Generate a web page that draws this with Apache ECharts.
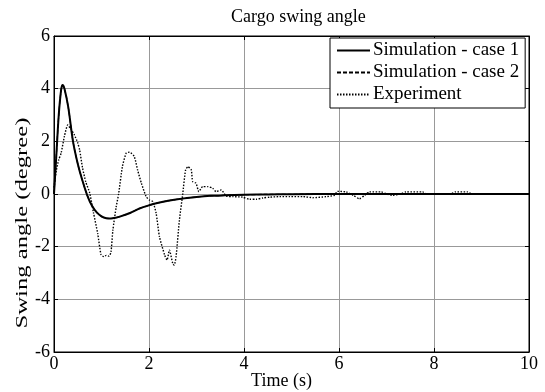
<!DOCTYPE html>
<html>
<head>
<meta charset="utf-8">
<script src="https://cdn.jsdelivr.net/npm/echarts@6/dist/echarts.min.js"></script>
<style>
  html, body { margin: 0; padding: 0; background: #fff; }
  #chart { width: 545px; height: 392px; }
</style>
</head>
<body>
<div id="chart"></div>
<script>
// axis ticks
var xTicks = [0, 2, 4, 6, 8, 10]
var yTicks = [-6, -4, -2, 0, 2, 4, 6]

// simulation - case 1 (solid)
var case1T = [0, 0.05, 0.1, 0.15, 0.18, 0.22, 0.3, 0.4, 0.5, 0.6, 0.7, 0.8, 0.9, 1.0, 1.1, 1.2, 1.3, 1.4, 1.6, 1.8, 2.0, 2.2, 2.4, 2.6, 2.8, 3.0, 3.3, 3.6, 4.0, 4.5, 5.0, 6.0, 7.0, 8.0, 9.0, 10.0]
var case1V = [0, 1.5, 3.0, 3.95, 4.14, 4.0, 3.3, 2.0, 1.15, 0.5, -0.05, -0.45, -0.7, -0.85, -0.92, -0.93, -0.9, -0.85, -0.72, -0.55, -0.43, -0.33, -0.26, -0.2, -0.15, -0.11, -0.07, -0.05, -0.03, -0.015, -0.01, 0, 0, 0, 0, 0]

// simulation - case 2 (dashed, nearly on top of case 1)
var case2T = [0, 0.05, 0.1, 0.15, 0.18, 0.22, 0.3, 0.4, 0.5, 0.6, 0.7, 0.8, 0.9, 1.0, 1.1, 1.2, 1.3, 1.4, 1.6, 1.8, 2.0, 2.2, 2.4, 2.6, 2.8, 3.0, 3.3, 3.6, 4.0, 4.5, 5.0, 6.0, 7.0, 8.0, 9.0, 10.0]
var case2V = [0, 1.5, 3.0, 3.95, 4.13, 4.0, 3.3, 2.0, 1.15, 0.5, -0.05, -0.45, -0.7, -0.85, -0.92, -0.93, -0.9, -0.85, -0.72, -0.55, -0.43, -0.33, -0.26, -0.2, -0.15, -0.11, -0.07, -0.05, -0.03, -0.015, -0.01, 0, 0, 0, 0, 0]

// experiment (dotted)
var expT = [0, 0.05, 0.1, 0.15, 0.22, 0.29, 0.36, 0.43, 0.5, 0.54, 0.6, 0.67, 0.75, 0.83, 0.92, 0.99, 1.05, 1.1, 1.16, 1.2, 1.24, 1.31, 1.36, 1.44, 1.52, 1.59, 1.69, 1.76, 1.84, 1.94, 2.01, 2.08, 2.15, 2.22, 2.33, 2.38, 2.43, 2.5, 2.53, 2.57, 2.64, 2.71, 2.77, 2.82, 2.89, 2.92, 2.99, 3.05, 3.13, 3.24, 3.34, 3.41, 3.52, 3.63, 3.77, 3.97, 4.12, 4.26, 4.4, 4.54, 4.75, 4.96, 5.24, 5.45, 5.73, 5.9, 5.97, 6.15, 6.3, 6.43, 6.54, 6.64, 6.89, 7.0, 7.13, 7.3, 7.41, 7.76, 7.85, 8.35, 8.45, 8.7, 8.8, 10.0]
var expV = [0.25, 0.9, 1.3, 1.55, 2.2, 2.62, 2.45, 2.24, 1.94, 1.67, 1.0, 0.45, 0.05, -0.7, -1.5, -2.3, -2.38, -2.33, -2.36, -2.2, -1.37, -0.48, 0, 1.04, 1.55, 1.59, 1.42, 0.91, 0.41, -0.1, -0.23, -0.29, -0.73, -1.62, -2.32, -2.51, -2.13, -2.64, -2.7, -2.38, -0.99, 0, 0.91, 1.04, 0.91, 0.47, 0.41, 0.09, 0.28, 0.28, 0.22, 0.09, 0.15, -0.08, -0.1, -0.12, -0.2, -0.2, -0.15, -0.12, -0.1, -0.1, -0.1, -0.14, -0.1, -0.05, 0.1, 0.08, -0.05, -0.18, -0.05, 0.08, 0.08, 0, -0.05, 0, 0.08, 0.08, 0, 0, 0.08, 0.08, 0, 0]

var names = ['Simulation - case 1', 'Simulation - case 2', 'Experiment']

function zip(t, v) {
  var out = []
  for (var i = 0; i < t.length; i++) {
    out.push([t[i], v[i]])
  }
  return out
}

var font = 'Liberation Serif, Times New Roman, serif'
var chart = echarts.init(document.getElementById('chart'))

var xBase = {
  type: 'value',
  min: xTicks[0],
  max: xTicks[xTicks.length - 1],
  interval: 2,
  axisLine: { show: true, onZero: false, lineStyle: { color: '#000', width: 1 } },
  axisTick: { show: true, inside: true, length: 4, lineStyle: { color: '#000' } },
  splitLine: { show: false }
}
var yBase = {
  type: 'value',
  min: yTicks[0],
  max: yTicks[yTicks.length - 1],
  interval: 2,
  axisLine: { show: true, onZero: false, lineStyle: { color: '#000', width: 1 } },
  axisTick: { show: true, inside: true, length: 4, lineStyle: { color: '#000' } },
  splitLine: { show: false }
}

chart.setOption({
  animation: false,
  backgroundColor: '#fff',
  title: {
    text: 'Cargo swing angle',
    left: 226,
    top: 3,
    textStyle: { fontFamily: font, fontSize: 18, fontWeight: 'normal', color: '#000' }
  },
  grid: {
    left: 54,
    right: 16,
    top: 36,
    bottom: 40,
    outerBoundsMode: 'none',
    show: true,
    borderColor: '#000',
    borderWidth: 1
  },
  legend: {
    data: names,
    orient: 'vertical',
    left: 330,
    top: 38,
    itemWidth: 33,
    itemHeight: 14,
    itemGap: 3,
    padding: [3, 6, 4, 6],
    backgroundColor: '#fff',
    borderColor: '#000',
    borderWidth: 1,
    borderRadius: 0,
    itemStyle: { opacity: 0 },
    textStyle: { fontFamily: font, fontSize: 19, color: '#000', padding: [0, 0, 0, -2] }
  },
  xAxis: [
    Object.assign({}, xBase, {
      position: 'bottom',
      name: 'Time (s)',
      nameLocation: 'middle',
      nameGap: 20,
      nameMoveOverlap: false,
      nameTextStyle: { fontFamily: font, fontSize: 18, color: '#000', padding: [0, 20, 0, 0] },
      axisLabel: { fontFamily: font, fontSize: 18, color: '#000', margin: 3 },
      splitLine: { show: true, lineStyle: { color: '#999', width: 1 } }
    }),
    Object.assign({}, xBase, { position: 'top', axisLabel: { show: false } })
  ],
  yAxis: [
    Object.assign({}, yBase, {
      position: 'left',
      axisLabel: { fontFamily: font, fontSize: 18, color: '#000', margin: 4 },
      splitLine: { show: true, lineStyle: { color: '#999', width: 1 } }
    }),
    Object.assign({}, yBase, { position: 'right', axisLabel: { show: false } })
  ],
  graphic: [
    {
      type: 'text',
      x: 23,
      y: 223,
      rotation: Math.PI / 2,
      scaleX: 1.45,
      style: {
        text: 'Swing angle (degree)',
        fontFamily: font,
        fontSize: 17,
        fill: '#000',
        align: 'center',
        verticalAlign: 'middle'
      }
    }
  ],
  series: [
    {
      name: names[0],
      type: 'line',
      data: zip(case1T, case1V),
      showSymbol: false,
      symbol: 'none',
      smooth: 0.3,
      z: 4,
      lineStyle: { color: '#000', width: 2, type: 'solid' },
      itemStyle: { color: '#000' }
    },
    {
      name: names[1],
      type: 'line',
      data: zip(case2T, case2V),
      showSymbol: false,
      symbol: 'none',
      smooth: 0.3,
      z: 3,
      lineStyle: { color: '#000', width: 1.2, type: [4, 2] },
      itemStyle: { color: '#000' }
    },
    {
      name: names[2],
      type: 'line',
      data: zip(expT, expV),
      showSymbol: false,
      symbol: 'none',
      smooth: 0.2,
      z: 2,
      lineStyle: { color: '#000', width: 1.4, type: [1.5, 1.5] },
      itemStyle: { color: '#000' }
    }
  ]
})
</script>
</body>
</html>
